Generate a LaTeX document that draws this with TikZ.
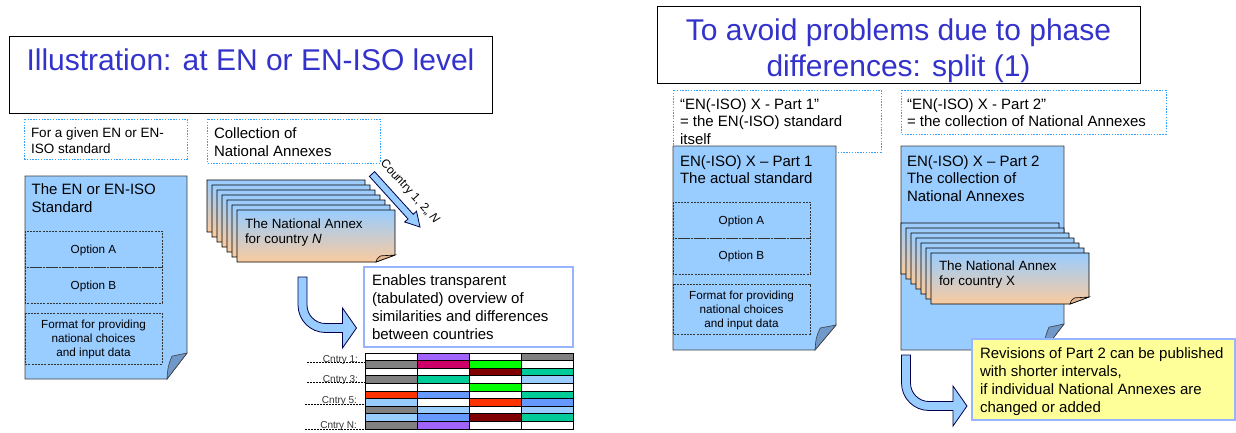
\documentclass[tikz,border=0pt]{standalone}
\usepackage{fontspec}
\setmainfont{Liberation Sans}

\definecolor{titleblue}{RGB}{51,51,204}
\definecolor{docblue}{RGB}{153,204,255}
\definecolor{folddark}{RGB}{112,152,200}
\definecolor{dotblue}{RGB}{51,160,255}
\definecolor{infoedge}{RGB}{150,180,255}
\definecolor{peach}{RGB}{250,203,158}
\definecolor{peachfold}{RGB}{228,184,146}
\definecolor{notebg}{RGB}{255,255,153}
\definecolor{cPur}{RGB}{160,100,250}
\definecolor{cMag}{RGB}{204,0,102}
\definecolor{cGrn}{RGB}{0,255,0}
\definecolor{cDrd}{RGB}{128,0,0}
\definecolor{cTea}{RGB}{0,204,153}
\definecolor{cLbl}{RGB}{153,204,255}
\definecolor{cRed}{RGB}{255,51,0}
\definecolor{cBlu}{RGB}{102,153,255}
\definecolor{cGry}{RGB}{128,128,128}
\definecolor{cWht}{RGB}{255,255,255}

% multi-line text blocks whose baseline is the first line
\newcommand{\stackL}[1]{\begin{tabular}[t]{@{}l@{}}#1\end{tabular}}
\newcommand{\stackC}[1]{\begin{tabular}[t]{@{}c@{}}#1\end{tabular}}

% sheet with a dog-eared bottom right corner
% #1 sheet style, #2 fold style, (#3,#4) top left, (#5,#6) bottom right, #7 fold width, #8 fold height
\newcommand{\pageshape}[8]{%
  \path[#1] (#3,#4) -- (#5,#4) -- (#5,{#6-#8}) -- ({#5-#7},#6) -- (#3,#6) -- cycle;
  \path[#2] ({#5-#7},#6) .. controls ({#5-#7+0.05*#7},{#6-0.5*#8}) .. ({#5-0.75*#7},{#6-0.88*#8}) -- (#5,{#6-#8}) -- cycle;
}

\tikzset{
  every node/.style={inner sep=0pt, outer sep=0pt, text=black},
  titlebox/.style={draw=black, line width=0.9pt, fill=white},
  titletext/.style={text=titleblue, font=\fontsize{30}{35.5}\selectfont},
  notebox/.style={draw=dotblue, line width=1pt, dash pattern=on 1.4pt off 1.4pt},
  bodytext/.style={font=\fontsize{15}{18.2}\selectfont},
  docpage/.style={draw=black!75, line width=0.8pt, fill=docblue},
  docfold/.style={draw=black!75, line width=0.6pt, fill=folddark},
  optbox/.style={draw=black!80, line width=0.7pt, dash pattern=on 2pt off 1.2pt},
  opttext/.style={font=\fontsize{11.7}{14.3}\selectfont},
  sheet/.style={draw=black, line width=0.8pt, top color=docblue, bottom color=peach},
  sheetfold/.style={draw=black, line width=0.6pt, fill=peachfold},
  annextext/.style={font=\fontsize{13.4}{15.8}\selectfont},
  infobox/.style={draw=infoedge, line width=1.3pt},
  arrowbody/.style={draw=black!70!blue, line width=0.8pt, fill=docblue},
  cell/.style={draw=black, line width=1pt},
  cntry/.style={font=\fontsize{10}{12}\selectfont, text=black!80},
  leader/.style={draw=black, line width=0.7pt, dash pattern=on 1.5pt off 1.5pt},
  pics/bentarrow/.style={code={
    \path[arrowbody] (-4.5,0) -- (-4.5,28)
      .. controls (-4.5,43.2) and (7.8,55.5) .. (23,55.5) -- (#1,55.5) -- (#1,71)
      -- ({#1+14},51) -- (#1,31) -- (#1,46.5) -- (23,46.5)
      .. controls (12.8,46.5) and (4.5,38.2) .. (4.5,28) -- (4.5,0) -- cycle;
  }},
}

\begin{document}
\begin{tikzpicture}[x=1pt,y=-1pt]
\useasboundingbox[fill=white] (0,0) rectangle (1236,432);

% ================= left: one EN standard and its annexes =================
\draw[titlebox] (9,36) rectangle (492,113);
\node[titletext, anchor=base] (ltitle) at (250.5,70.7) {Illustration: at EN or EN-ISO level};

\draw[notebox] (24.7,119) rectangle (187,159);
\node[font=\fontsize{13.5}{16}\selectfont, anchor=base west] (lnote1) at (31,137)
  {\stackL{For a given EN or EN-\\ISO standard}};
\draw[notebox] (207,119) rectangle (380,163);
\node[bodytext, anchor=base west] (lnote2) at (214,138) {\stackL{Collection of\\National Annexes}};

% the standard itself
\pageshape{docpage}{docfold}{25}{176}{187}{379}{20}{26}
\node[bodytext, anchor=base west] (lstd) at (31.7,194) {\stackL{The EN or EN-ISO\\Standard}};
\draw[optbox] (25,231) rectangle (162,267);
\draw[optbox] (25,267) rectangle (162,303);
\draw[optbox] (25,313) rectangle (162,364);
\node[opttext, anchor=base] (loptA) at (93.5,253.3) {Option A};
\node[opttext, anchor=base] (loptB) at (93.5,289.3) {Option B};
\node[opttext, anchor=base] (lfmt) at (93.5,328) {\stackC{Format for providing\\national choices\\and input data}};

% stack of national annexes
\foreach \i in {0,...,6}{\pageshape{sheet}{sheetfold}{207+5*\i}{180+5*\i}{365+5*\i}{232+5*\i}{19}{7}}
\node[annextext, anchor=base west] (lannex) at (245,228) {\stackL{The National Annex\\for country \textit{N}}};

% country arrow
\path[arrowbody] (374.6,171.65) -- (413.2,214.25) -- (416.5,211.2) -- (420,227)
  -- (404.7,222.0) -- (408.0,218.95) -- (369.4,176.35) -- cycle;
\node[font=\fontsize{12}{14}\selectfont, rotate=-47.8] (lcountry) at (409.6,191.8) {Country 1, 2,, \textit{N}};

% bent arrow towards the overview
\pic at (302.5,277) {bentarrow=40};

\draw[infobox, fill=white] (364,267) rectangle (573,347);
\node[bodytext, anchor=base west] (lenable) at (372,285)
  {\stackL{Enables transparent\\(tabulated) overview of\\similarities and differences\\between countries}};

% overview table
\foreach \r/\row in {0/{cWht,cPur,cWht,cGry},1/{cGry,cMag,cGrn,cWht},2/{cWht,cWht,cDrd,cTea},
    3/{cGry,cTea,cWht,cLbl},4/{cWht,cWht,cGrn,cWht},5/{cRed,cBlu,cWht,cTea},
    6/{cLbl,cWht,cRed,cBlu},7/{cGry,cLbl,cWht,cLbl},8/{cLbl,cBlu,cDrd,cTea},9/{cGry,cPur,cWht,cWht}}
  {\foreach \c [count=\k from 0] in \row {\path[cell, fill=\c] ({365+52*\k},{353+7.6*\r}) rectangle ++(52,7.6);}}

\coordinate (t1) at (365,362.7); \coordinate (s1) at (307,362.7);
\coordinate (t3) at (365,382.7); \coordinate (s3) at (307,382.7);
\coordinate (t5) at (365,404.3); \coordinate (s5) at (305,404.3);
\coordinate (tN) at (365,429.3); \coordinate (sN) at (305,429.3);
\draw[leader] (s1) -- (t1);
\draw[leader] (s3) -- (t3);
\draw[leader] (s5) -- (t5);
\draw[leader] (sN) -- (tN);
\node[cntry, anchor=base east] (c1) at (358,362) {Cntry 1:};
\node[cntry, anchor=base east] (c3) at (358,382) {Cntry 3:};
\node[cntry, anchor=base east] (c5) at (357,403.5) {Cntry 5:};
\node[cntry, anchor=base east] (cN) at (357,428.5) {Cntry N:};

% ================= right: split into two parts =================
\draw[titlebox] (657,6) rectangle (1140,83);
\node[titletext, anchor=base] (rtitle) at (898.5,40.7) {\stackC{To avoid problems due to phase\\differences: split (1)}};

\draw[notebox] (673,90) rectangle (881,152);
\node[font=\fontsize{15}{17.7}\selectfont, anchor=base west] (rnote1) at (680,109)
  {\stackL{“EN(-ISO) X - Part 1”\\= the EN(-ISO) standard\\itself}};
\draw[notebox] (901,90) rectangle (1166,134);
\node[font=\fontsize{15}{17.7}\selectfont, anchor=base west] (rnote2) at (907,109)
  {\stackL{“EN(-ISO) X - Part 2”\\= the collection of National Annexes}};

% part 1
\pageshape{docpage}{docfold}{673}{146}{836}{350}{21}{25}
\node[font=\fontsize{15}{17.5}\selectfont, anchor=base west] (rpart1) at (680,166)
  {\stackL{EN(-ISO) X – Part 1\\The actual standard}};
\draw[optbox] (673,202) rectangle (810,238);
\draw[optbox] (673,238) rectangle (810,274);
\draw[optbox] (673,284) rectangle (810,334);
\node[opttext, anchor=base] (roptA) at (741.5,224.3) {Option A};
\node[opttext, anchor=base] (roptB) at (741.5,259.7) {Option B};
\node[opttext, anchor=base] (rfmt) at (741.5,299.3) {\stackC{Format for providing\\national choices\\and input data}};

% part 2
\pageshape{docpage}{docfold}{901}{146}{1064}{350}{20}{26}
\node[font=\fontsize{15}{17.5}\selectfont, anchor=base west] (rpart2) at (907,166)
  {\stackL{EN(-ISO) X – Part 2\\The collection of\\National Annexes}};
\foreach \i in {0,...,6}{\pageshape{sheet}{sheetfold}{901+5*\i}{223+5*\i}{1059+5*\i}{274+5*\i}{19}{7}}
\node[annextext, anchor=base west] (rannex) at (939,270) {\stackL{The National Annex\\for country X}};

% revision note
\draw[infobox, fill=notebg] (972,339) rectangle (1235,420);
\node[bodytext, anchor=base west] (rrev) at (980,358)
  {\stackL{Revisions of Part 2 can be published\\with shorter intervals,\\if individual National Annexes are\\changed or added}};
\pic at (906,355) {bentarrow=47};
\end{tikzpicture}
\end{document}
